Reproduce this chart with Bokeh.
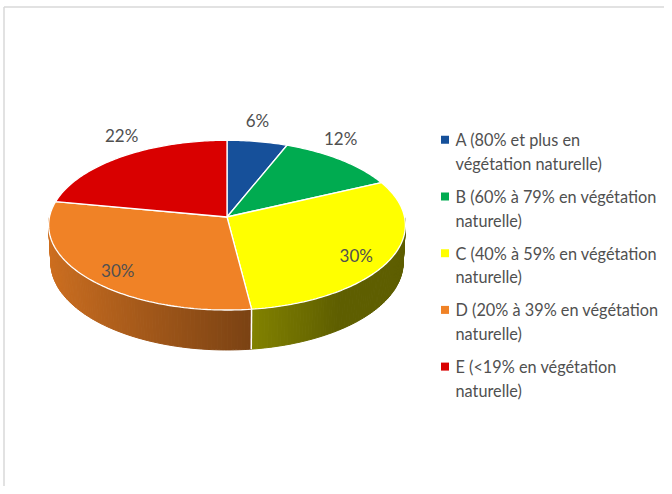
import numpy as np
from math import asin, sin, cos
from bokeh.plotting import figure
from bokeh.models import Range1d
from bokeh.embed import file_html
from bokeh.resources import INLINE
from bokeh.core.properties import value

# ---------------- data ----------------
categories = ["A", "B", "C", "D", "E"]
shares = [6, 12, 30, 30, 22]
labels = ["6%", "12%", "30%", "30%", "22%"]
legend_line1 = ["A (80% et plus en", "B (60% à 79% en végétation",
                "C (40% à 59% en végétation", "D (20% à 39% en végétation",
                "E (<19% en végétation"]
legend_line2 = ["végétation naturelle)", "naturelle)", "naturelle)",
                "naturelle)", "naturelle)"]
colors = ["#16509A", "#00AB50", "#FFFF00", "#F08226", "#D90000"]

# ---------------- figure ----------------
W, H = 664, 486
p = figure(width=W, height=H, x_range=Range1d(0, W), y_range=Range1d(H, 0),
           output_backend="svg", toolbar_location=None, min_border=0,
           x_axis_location=None, y_axis_location=None)
p.grid.visible = False
p.outline_line_color = None
p.background_fill_color = "white"
p.border_fill_color = "white"

# frame lines (top and left)
p.line([3.5, 3.5], [H, 6.5], line_color="#D9D9D9", line_width=1.5)
p.line([3.5, W], [6.5, 6.5], line_color="#D9D9D9", line_width=1.5)

# ---------------- 3D pie projection ----------------
CX, CY = 226.5, 216.5
FOC, DIST = 1628.0, 9.17
PHI = asin(0.4736)
DEPTH = 0.2415


def proj(theta_deg, r=1.0, yy=0.0):
    t = np.radians(np.asarray(theta_deg, dtype=float))
    X = r * np.sin(t)
    Zw = r * np.cos(t)
    yc = Zw * sin(PHI) + yy * cos(PHI)
    zc = Zw * cos(PHI) - yy * sin(PHI) + DIST
    return CX + FOC * X / zc, CY - FOC * yc / zc


def hex2rgb(h):
    h = h.lstrip("#")
    return [int(h[i:i + 2], 16) for i in (0, 2, 4)]


def shade(hexc, s):
    r, g, b = hex2rgb(hexc)
    return "#%02x%02x%02x" % (int(r * s), int(g * s), int(b * s))


total = float(sum(shares))
ends = np.cumsum(shares) / total * 360.0
starts = np.concatenate([[0.0], ends[:-1]])

# side walls (front half only)
xs_side, ys_side, col_side = [], [], []
for a0, a1, c in zip(starts, ends, colors):
    lo, hi = max(a0, 90.0), min(a1, 270.0)
    if hi <= lo:
        continue
    n = int(np.ceil((hi - lo) / 1.0))
    edges = np.linspace(lo, hi, n + 1)
    for t0, t1 in zip(edges[:-1], edges[1:]):
        tx0, ty0 = proj(t0)
        tx1, ty1 = proj(t1)
        bx1, by1 = proj(t1, 1.0, -DEPTH)
        bx0, by0 = proj(t0, 1.0, -DEPTH)
        xs_side.append([float(tx0), float(tx1), float(bx1), float(bx0)])
        ys_side.append([float(ty0), float(ty1), float(by1), float(by0)])
        tm = np.radians((t0 + t1) / 2)
        s = max(0.37, 0.55 - 0.31 * np.sin(tm))
        col_side.append(shade(c, s))

p.patches(xs_side, ys_side, fill_color=col_side, line_color=col_side, line_width=1.0)

# white seam on the side at slice boundaries in the visible part
for a in ends[:-1]:
    if 90 < a < 270:
        x0, y0 = proj(a)
        x1, y1 = proj(a, 1.0, -DEPTH)
        p.line([float(x0), float(x1)], [float(y0), float(y1)], line_color="white", line_width=1.5)

# top faces
xs_top, ys_top = [], []
for a0, a1 in zip(starts, ends):
    n = max(8, int(np.ceil(a1 - a0)))
    th = np.linspace(a0, a1, n + 1)
    ax, ay = proj(th)
    xs_top.append([CX] + [float(v) for v in ax])
    ys_top.append([CY] + [float(v) for v in ay])
p.patches(xs_top, ys_top, fill_color=colors, line_color="white", line_width=1.3)

# data labels
lx, ly = [], []
for a0, a1, v in zip(starts, ends, shares):
    mid = (a0 + a1) / 2
    if v < 25:
        x, y = proj(mid, 1.0)
        lx.append(float(x)); ly.append(float(y) - 21)
    else:
        x, y = proj(mid, 0.8)
        lx.append(float(x)); ly.append(float(y) + 5)
p.text(lx, ly, text=labels, text_align="center", text_baseline="middle",
       text_font=value("Lato"), text_font_size="17px", text_color="#505050")

# legend
LEG_X, LEG_Y0, LINE_GAP, ENTRY_GAP = 444.5, 139.3, 23.5, 56.7
sq_y = [LEG_Y0 + i * ENTRY_GAP for i in range(len(categories))]
p.scatter([LEG_X] * len(categories), sq_y, marker="square", size=8,
          fill_color=colors, line_color=None)
p.text([LEG_X + 10.5] * len(categories), sq_y, text=legend_line1,
       text_baseline="middle", text_font=value("Lato"), text_font_size="16.3px",
       text_color="#505050")
p.text([LEG_X + 10.5] * len(categories), [y + LINE_GAP for y in sq_y], text=legend_line2,
       text_baseline="middle", text_font=value("Lato"), text_font_size="16.3px",
       text_color="#505050")

open("out.html", "w").write(file_html(p, INLINE))
